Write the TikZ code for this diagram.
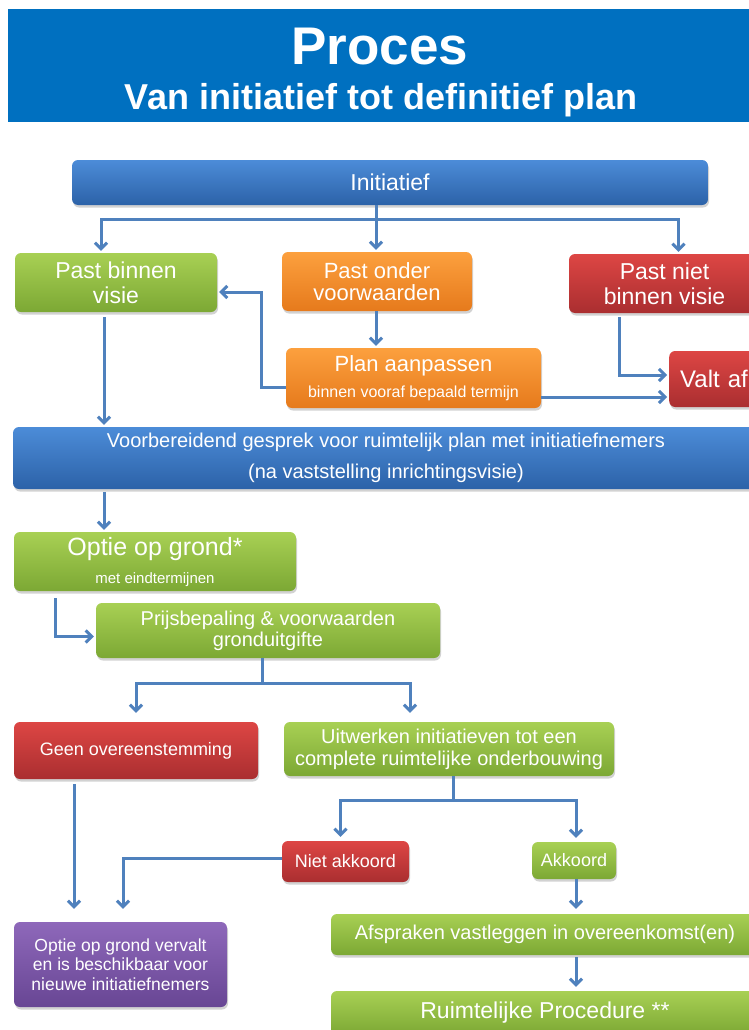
\documentclass[tikz,border=0pt]{standalone}
\usepackage{fontspec}
\setmainfont{Liberation Sans}
\usetikzlibrary{arrows.meta,shadows}
\definecolor{hdr}{HTML}{0070C0}
\definecolor{pijl}{HTML}{4F81BD}
\newcommand\fsz[2]{\fontsize{#1}{#2}\selectfont}

\begin{document}
\begin{tikzpicture}[x=1pt,y=-1pt,>={Straight Barb[length=6pt,width=12pt]},
  box/.style={rounded corners=6pt,text=white,align=center,inner sep=0pt,
    drop shadow={opacity=0.35,shadow xshift=1pt,shadow yshift=-2.5pt}},
  blauw/.style={box,top color={rgb,255:red,76;green,140;blue,216},bottom color={rgb,255:red,44;green,98;blue,168}},
  groen/.style={box,top color={rgb,255:red,168;green,208;blue,84},bottom color={rgb,255:red,124;green,168;blue,52}},
  oranje/.style={box,top color={rgb,255:red,252;green,160;blue,62},bottom color={rgb,255:red,230;green,122;blue,28}},
  rood/.style={box,top color={rgb,255:red,221;green,70;blue,68},bottom color={rgb,255:red,170;green,46;blue,48}},
  paars/.style={box,top color={rgb,255:red,142;green,104;blue,186},bottom color={rgb,255:red,104;green,70;blue,148}},
  arr/.style={->,draw=pijl,line width=3pt,shorten >=2pt},
  lijn/.style={draw=pijl,line width=3pt}]
  \useasboundingbox (0,0) rectangle (749,1030);
  \clip (0,0) rectangle (749,1030);
  \fill[white] (0,0) rectangle (749,1030);

  \node[fill=hdr,minimum width=760,minimum height=113,anchor=north west] (kop) at (8,9) {};
  \node[text=white,font=\bfseries\fsz{53}{60},anchor=base] (titel) at (380,65) {Proces};
  \node[text=white,font=\bfseries\fsz{36}{40},anchor=base] (sub) at (381,110) {Van initiatief tot definitief plan};

  \node[blauw,minimum width=636,minimum height=45,font=\fsz{23}{25}] (ini) at (390,182.5) {Initiatief};
  \node[groen,minimum width=202,minimum height=59,font=\fsz{23}{25}] (pbv) at (116,282.5) {Past binnen\\visie};
  \node[oranje,minimum width=190,minimum height=59,font=\fsz{22}{22}] (pov) at (377,281.5) {Past onder\\voorwaarden};
  \node[rood,minimum width=191,minimum height=59,font=\fsz{23}{25}] (pnv) at (664.5,283.5) {Past niet\\binnen visie};
  \node[oranje,minimum width=255,minimum height=60,font=\fsz{22}{26}] (pa) at (413.5,378) {Plan aanpassen\\{\fsz{16}{18}binnen vooraf bepaald termijn}};
  \node[rood,minimum width=160,minimum height=56,anchor=west,text width=138,align=left,inner xsep=11pt,font=\fsz{24}{26}] (va) at (669,379) {Valt af};
  \node[blauw,minimum width=746,minimum height=62,font=\fsz{20}{31}] (voor) at (386,458) {Voorbereidend gesprek voor ruimtelijk plan met initiatiefnemers\\(na vaststelling inrichtingsvisie)};
  \node[groen,minimum width=282,minimum height=59,font=\fsz{25}{28}] (opt) at (155,561.5) {Optie op grond*\\{\fsz{15}{17}met eindtermijnen}};
  \node[groen,minimum width=344,minimum height=55,font=\fsz{20}{21}] (prijs) at (268,630.5) {Prijsbepaling \& voorwaarden\\gronduitgifte};
  \node[rood,minimum width=244,minimum height=57,font=\fsz{18}{20}] (geen) at (136,750.5) {Geen overeenstemming};
  \node[groen,minimum width=330,minimum height=54,font=\fsz{20}{22}] (uitw) at (449,749) {Uitwerken initiatieven tot een\\complete ruimtelijke onderbouwing};
  \node[rood,minimum width=127,minimum height=41,font=\fsz{18}{20}] (niet) at (345.5,861.5) {Niet akkoord};
  \node[groen,minimum width=84,minimum height=37,font=\fsz{18}{20}] (akk) at (574,860.5) {Akkoord};
  \node[paars,minimum width=213,minimum height=85,font=\fsz{17.5}{19.5}] (verv) at (120.5,964.5) {Optie op grond vervalt\\en is beschikbaar voor\\nieuwe initiatiefnemers};
  \node[groen,minimum width=428,minimum height=41,font=\fsz{20}{22}] (afspr) at (545,934.5) {Afspraken vastleggen in overeenkomst(en)};
  \node[groen,minimum width=428,minimum height=44,font=\fsz{23}{25}] (ruimt) at (545,1013) {Ruimtelijke Procedure **};

  \coordinate (s1) at (376,219);
  \coordinate (s2) at (262,683);
  \coordinate (s3) at (453,800);

  \draw[arr] (ini.south -| s1) -- (s1 |- pov.north);
  \draw[arr] (s1) -| ([xshift=-15]pbv.north);
  \draw[arr] (s1) -| ([xshift=14]pnv.north);
  \draw[arr] (pov.south -| s1) -- (s1 |- pa.north);
  \draw[arr] ([yshift=-9]pa.west) -- ++(-24,0) |- ([yshift=-9.5]pbv.east);
  \draw[arr] ([yshift=-19]pa.east) -- ([yshift=-18]va.west);
  \draw[arr,shorten <=4pt] ([xshift=-45]pnv.south) |- ([yshift=4]va.west);
  \draw[arr,shorten <=5pt] ([xshift=-12]pbv.south) -- ([xshift=-12]pbv.south |- voor.north);
  \draw[arr,shorten <=3pt] ([xshift=-51]opt.north |- voor.south) -- ([xshift=-51]opt.north);
  \draw[arr,shorten <=7pt] ([xshift=-100]opt.south) |- ([yshift=-6]prijs.west);
  \draw[lijn] ([xshift=-6]prijs.south) -- (s2);
  \draw[arr,shorten >=9pt] (s2) -| (geen.north);
  \draw[arr,shorten >=9pt] (s2) -| ([xshift=-39]uitw.north);
  \draw[arr,shorten <=5pt,shorten >=13pt] ([xshift=-62]geen.south) -- ([xshift=-62]geen.south |- verv.north);
  \draw[lijn] ([xshift=4]uitw.south) -- (s3);
  \draw[arr,shorten >=4pt] (s3) -| ([xshift=-5]niet.north);
  \draw[arr,shorten >=4pt] (s3) -| ([xshift=2]akk.north);
  \draw[arr,shorten >=13pt] ([yshift=3.5]niet.west) -| ([xshift=2.5]verv.north);
  \draw[arr,shorten >=5pt] ([xshift=2]akk.south) -- ([xshift=2]akk.south |- afspr.north);
  \draw[arr,shorten <=2pt,shorten >=4pt] ([xshift=31]afspr.south) -- ([xshift=31]afspr.south |- ruimt.north);
\end{tikzpicture}
\end{document}
